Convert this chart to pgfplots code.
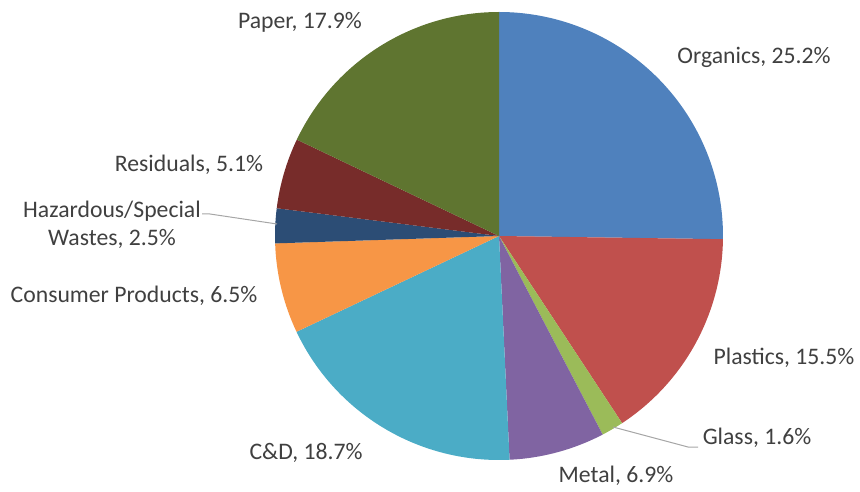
\documentclass[border=0pt]{standalone}
\usepackage{fontspec}
\setmainfont{Carlito}
\usepackage{pgfplots}
\pgfplotsset{compat=1.18}
\usepackage{pgfplotstable}

\definecolor{orgc}{HTML}{4F81BD}
\definecolor{plas}{HTML}{C0504D}
\definecolor{glas}{HTML}{9BBB59}
\definecolor{metl}{HTML}{8064A2}
\definecolor{cand}{HTML}{4BACC6}
\definecolor{cons}{HTML}{F79646}
\definecolor{hazd}{HTML}{2C4D75}
\definecolor{resd}{HTML}{772C2A}
\definecolor{papr}{HTML}{5F7530}
\definecolor{txt}{HTML}{404040}
\definecolor{lead}{HTML}{A6A6A6}

% share of each waste category, clockwise from 12 o'clock
\pgfplotstableread{
value color
25.2 orgc
15.5 plas
1.6  glas
6.9  metl
18.7 cand
6.5  cons
2.5  hazd
5.1  resd
17.9 papr
}\piedata

% slice angles, worked out before the axis
\pgfplotstablegetrowsof{\piedata}
\pgfmathtruncatemacro\lastrow{\pgfplotsretval-1}
\gdef\total{0}
\foreach \i in {0,...,\lastrow}{
    \pgfplotstablegetelem{\i}{value}\of\piedata
    \pgfmathsetmacro\tmp{\total+\pgfplotsretval}
    \global\let\total\tmp
}
\gdef\cum{0}
\gdef\slices{}
\foreach \i in {0,...,\lastrow}{
    \pgfplotstablegetelem{\i}{value}\of\piedata
    \let\v\pgfplotsretval
    \pgfplotstablegetelem{\i}{color}\of\piedata
    \let\c\pgfplotsretval
    \pgfmathsetmacro\aa{90-\cum/\total*360}
    \pgfmathsetmacro\ab{90-(\cum+\v)/\total*360}
    \pgfmathsetmacro\tmp{\cum+\v}
    \global\let\cum\tmp
    \ifnum\i=0
        \xdef\slices{\aa/\ab/\c}
    \else
        \xdef\slices{\slices,\aa/\ab/\c}
    \fi
}

\begin{document}
\begin{tikzpicture}[
    lbl/.style={text=txt, font=\fontsize{23.7}{28}\selectfont, inner sep=0pt, align=center}
]
\begin{axis}[
    width=860pt, height=491pt,
    scale only axis,
    xmin=0, xmax=860,
    ymin=0, ymax=491,
    hide axis,
    clip=false
]
\foreach \a/\b/\c in \slices {
    \edef\temp{\noexpand\fill[\c] (axis cs:499,255) -- ++(\a:224pt)
        arc[start angle=\a, end angle=\b, radius=224pt] -- cycle;}
    \temp
}
\draw[lead, line width=1pt] (axis cs:613,64) -- (axis cs:688,44) -- (axis cs:698,44);
\draw[lead, line width=1pt] (axis cs:202,277) -- (axis cs:210,277) -- (axis cs:277,267);

\node[lbl] at (axis cs:754,434) {Organics, 25.2\%};
\node[lbl] at (axis cs:784,133) {Plastics, 15.5\%};
\node[lbl] at (axis cs:757,53) {Glass, 1.6\%};
\node[lbl] at (axis cs:616,15) {Metal, 6.9\%};
\node[lbl] at (axis cs:306,38) {C\&D, 18.7\%};
\node[lbl] at (axis cs:134,195) {Consumer Products, 6.5\%};
\node[lbl] at (axis cs:112,266) {Hazardous/Special\\Wastes, 2.5\%};
\node[lbl] at (axis cs:189,326) {Residuals, 5.1\%};
\node[lbl] at (axis cs:300,469) {Paper, 17.9\%};
\end{axis}
\pgfresetboundingbox
\path (0,0) rectangle (860pt,491pt);
\end{tikzpicture}
\end{document}
